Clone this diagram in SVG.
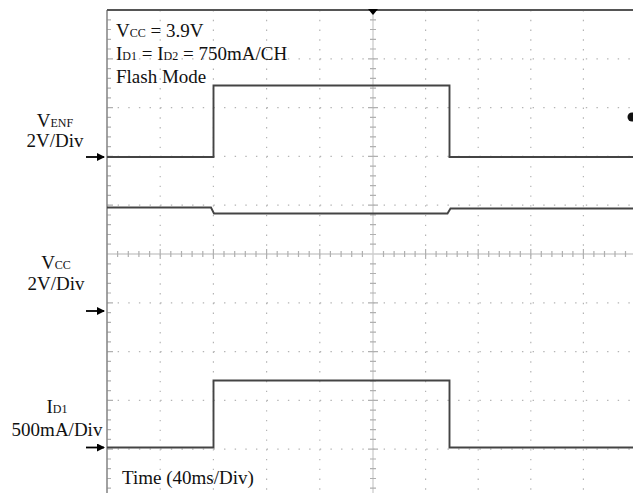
<svg xmlns="http://www.w3.org/2000/svg" width="633" height="493" viewBox="0 0 633 493">
<style>
.bg{fill:#ffffff}
.vdot{stroke:#b4b4b4;stroke-width:1.2;stroke-dasharray:1.4 8.36;fill:none}
.hdot{stroke:#b4b4b4;stroke-width:1.2;stroke-dasharray:1.4 9.24;fill:none}
.axis{stroke:#cccccc;stroke-width:1.3;fill:none}
.tick{stroke:#b0b0b0;stroke-width:1.2;fill:none}
.frame{stroke:#8a8a8a;stroke-width:1.6;fill:none}
.top{stroke:#555555;stroke-width:2;fill:none}
.trace{stroke:#444444;stroke-width:1.9;fill:none;stroke-linejoin:miter}
.lbl{font-family:"Liberation Serif","Times New Roman",serif;font-size:19px;fill:#111111}
.sub{font-size:12px}
.arr{stroke:#000000;stroke-width:1.8;fill:none}
</style>
<defs>
<marker id="ah" markerWidth="8" markerHeight="8" refX="7" refY="4" orient="auto" markerUnits="userSpaceOnUse">
<path d="M0,0 L8,4 L0,8 Z" fill="#000000"/>
</marker>
</defs>
<rect class="bg" x="0" y="0" width="633" height="493"/>
<g id="grid">
<g id="vgrid">
<line class="vdot" x1="160.2" y1="10" x2="160.2" y2="493"/>
<line class="vdot" x1="213.4" y1="10" x2="213.4" y2="493"/>
<line class="vdot" x1="266.6" y1="10" x2="266.6" y2="493"/>
<line class="vdot" x1="319.8" y1="10" x2="319.8" y2="493"/>
<line class="vdot" x1="425.6" y1="10" x2="425.6" y2="493"/>
<line class="vdot" x1="478.2" y1="10" x2="478.2" y2="493"/>
<line class="vdot" x1="530.8" y1="10" x2="530.8" y2="493"/>
<line class="vdot" x1="583.4" y1="10" x2="583.4" y2="493"/>
</g>
<g id="hgrid">
<line class="hdot" x1="107" y1="58.8" x2="633" y2="58.8"/>
<line class="hdot" x1="107" y1="107.6" x2="633" y2="107.6"/>
<line class="hdot" x1="107" y1="156.4" x2="633" y2="156.4"/>
<line class="hdot" x1="107" y1="205.2" x2="633" y2="205.2"/>
<line class="hdot" x1="107" y1="302.8" x2="633" y2="302.8"/>
<line class="hdot" x1="107" y1="351.6" x2="633" y2="351.6"/>
<line class="hdot" x1="107" y1="400.4" x2="633" y2="400.4"/>
<line class="hdot" x1="107" y1="449.2" x2="633" y2="449.2"/>
</g>
<line class="axis" x1="107" y1="254" x2="633" y2="254"/>
<line class="axis" x1="373" y1="10" x2="373" y2="493"/>
<path class="tick" d="M117.6,251v6M128.3,251v6M138.9,251v6M149.6,251v6M160.2,249v10M170.8,251v6M181.5,251v6M192.1,251v6M202.8,251v6M213.4,249v10M224,251v6M234.7,251v6M245.3,251v6M256,251v6M266.6,249v10M277.2,251v6M287.9,251v6M298.5,251v6M309.2,251v6M319.8,249v10M330.4,251v6M341.1,251v6M351.7,251v6M362.4,251v6M383.5,251v6M394.1,251v6M404.6,251v6M415.1,251v6M425.6,249v10M436.1,251v6M446.7,251v6M457.2,251v6M467.7,251v6M478.2,249v10M488.7,251v6M499.3,251v6M509.8,251v6M520.3,251v6M530.8,249v10M541.3,251v6M551.9,251v6M562.4,251v6M572.9,251v6M583.4,249v10M593.9,251v6M604.5,251v6M615,251v6M625.5,251v6"/>
<path class="tick" d="M370,19.8h6M370,29.5h6M370,39.3h6M370,49h6M368,58.8h10M370,68.6h6M370,78.3h6M370,88.1h6M370,97.8h6M368,107.6h10M370,117.4h6M370,127.1h6M370,136.9h6M370,146.6h6M368,156.4h10M370,166.2h6M370,175.9h6M370,185.7h6M370,195.4h6M368,205.2h10M370,215h6M370,224.7h6M370,234.5h6M370,244.2h6M370,263.8h6M370,273.5h6M370,283.3h6M370,293h6M368,302.8h10M370,312.6h6M370,322.3h6M370,332.1h6M370,341.8h6M368,351.6h10M370,361.4h6M370,371.1h6M370,380.9h6M370,390.6h6M368,400.4h10M370,410.2h6M370,419.9h6M370,429.7h6M370,439.4h6M368,449.2h10M370,459h6M370,468.7h6M370,478.5h6M370,488.2h6"/>
<path class="tick" d="M107,19.8h4M107,29.5h4M107,39.3h4M107,49h4M107,58.8h6M107,68.6h4M107,78.3h4M107,88.1h4M107,97.8h4M107,107.6h6M107,117.4h4M107,127.1h4M107,136.9h4M107,146.6h4M107,156.4h6M107,166.2h4M107,175.9h4M107,185.7h4M107,195.4h4M107,205.2h6M107,215h4M107,224.7h4M107,234.5h4M107,244.2h4M107,263.8h4M107,273.5h4M107,283.3h4M107,293h4M107,302.8h6M107,312.6h4M107,322.3h4M107,332.1h4M107,341.8h4M107,351.6h6M107,361.4h4M107,371.1h4M107,380.9h4M107,390.6h4M107,400.4h6M107,410.2h4M107,419.9h4M107,429.7h4M107,439.4h4M107,449.2h6M107,459h4M107,468.7h4M107,478.5h4M107,488.2h4"/>
<line class="frame" x1="107" y1="10" x2="107" y2="493"/>
<line class="top" x1="107" y1="10" x2="633" y2="10"/>
<path d="M368,9 L378,9 L373,15 Z" fill="#000000"/>
<circle cx="632" cy="117" r="4.5" fill="#111111"/>
</g>
<g id="traces">
<path id="venf" class="trace" d="M107,157 H213.5 V85.5 H449.5 V157 H633"/>
<path id="vcc" class="trace" d="M107,207.5 H211 L214,213.5 H447.5 L450.5,208.5 H633"/>
<path id="id1" class="trace" d="M107,447.5 H213.5 V380.5 H449.5 V447.5 H633"/>
</g>
<g id="info">
<text class="lbl" x="116" y="37">V<tspan class="sub">CC</tspan> = 3.9V</text>
<text class="lbl" x="116" y="60">I<tspan class="sub">D1</tspan> = I<tspan class="sub">D2</tspan> = 750mA/CH</text>
<text class="lbl" x="116" y="83">Flash Mode</text>
<text class="lbl" x="122" y="484">Time (40ms/Div)</text>
</g>
<g id="ch-venf">
<text class="lbl" x="55" y="127" text-anchor="middle">V<tspan class="sub">ENF</tspan></text>
<text class="lbl" x="55" y="147" text-anchor="middle">2V/Div</text>
</g>
<g id="ch-vcc">
<text class="lbl" x="56" y="269" text-anchor="middle">V<tspan class="sub">CC</tspan></text>
<text class="lbl" x="56" y="290" text-anchor="middle">2V/Div</text>
</g>
<g id="ch-id1">
<text class="lbl" x="57" y="413" text-anchor="middle">I<tspan class="sub">D1</tspan></text>
<text class="lbl" x="57" y="436" text-anchor="middle">500mA/Div</text>
</g>
<g id="connectors">
<line class="arr" x1="86" y1="157" x2="104" y2="157" marker-end="url(#ah)"/>
<line class="arr" x1="86" y1="311" x2="104" y2="311" marker-end="url(#ah)"/>
<line class="arr" x1="86" y1="447.5" x2="104" y2="447.5" marker-end="url(#ah)"/>
</g>
</svg>
